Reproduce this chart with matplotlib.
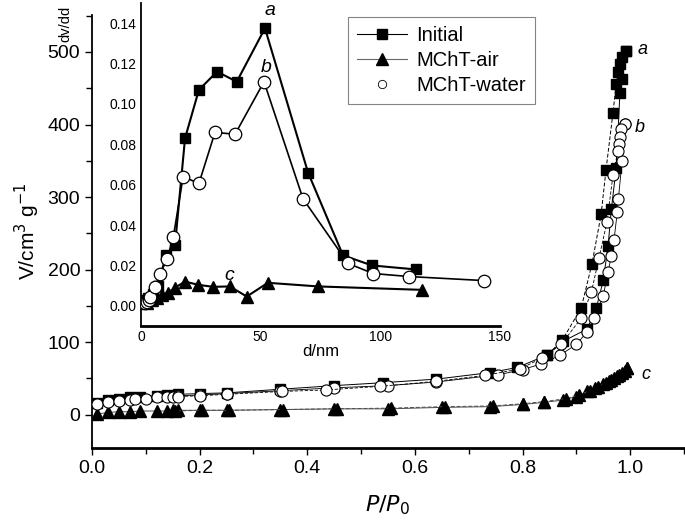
import matplotlib
matplotlib.use("Agg")
import matplotlib.pyplot as plt
from matplotlib.ticker import MultipleLocator
from matplotlib.lines import Line2D

plt.rcParams['font.family'] = ['Liberation Sans', 'DejaVu Sans']

# isotherms (P/P0, V)
init_ads_p = [0.01, 0.03, 0.05, 0.07, 0.09, 0.12, 0.14, 0.16, 0.20, 0.25, 0.35, 0.45, 0.54, 0.64,
              0.74, 0.79, 0.845, 0.875, 0.92, 0.937, 0.95, 0.959, 0.965, 0.974, 0.981, 0.985, 0.993]
init_ads_v = [16, 20, 22, 24, 25, 26, 27, 28, 29, 30, 35, 40, 44, 49,
              58, 65, 82, 101, 118, 147, 185, 233, 283, 340, 444, 463, 501]
init_des_p = [0.993, 0.985, 0.981, 0.978, 0.974, 0.968, 0.955, 0.946, 0.929, 0.909, 0.874, 0.846]
init_des_v = [501, 493, 484, 472, 456, 416, 337, 276, 208, 147, 103, 82]

air_ads_p = [0.01, 0.03, 0.05, 0.07, 0.09, 0.12, 0.14, 0.15, 0.16, 0.20, 0.25, 0.35, 0.45, 0.55,
             0.65, 0.74, 0.80, 0.84, 0.875, 0.90, 0.92, 0.935, 0.95, 0.96, 0.97, 0.98, 0.99, 0.995]
air_ads_v = [1, 3, 4, 4, 5, 5, 5, 6, 6, 6, 6, 7, 8, 8,
             10, 11, 14, 17, 20, 25, 32, 37, 42, 46, 50, 55, 60, 64]
air_des_p = [0.995, 0.985, 0.975, 0.965, 0.955, 0.94, 0.925, 0.905, 0.88, 0.84, 0.80, 0.745,
             0.655, 0.555, 0.455, 0.355, 0.255, 0.205, 0.155]
air_des_v = [64, 58, 53, 48, 44, 38, 33, 27, 22, 18, 15, 12, 11, 9, 8, 7, 6, 6, 5]

water_ads_p = [0.01, 0.03, 0.05, 0.07, 0.08, 0.10, 0.12, 0.14, 0.15, 0.16, 0.20, 0.25, 0.35, 0.45,
               0.55, 0.64, 0.755, 0.80, 0.835, 0.87, 0.90, 0.92, 0.933, 0.95, 0.959, 0.965, 0.970,
               0.976, 0.978, 0.985, 0.991]
water_ads_v = [15, 18, 19, 20, 21, 22, 24, 25, 25, 26, 27, 29, 33, 37,
               40, 45, 55, 62, 70, 82, 97, 114, 133, 164, 197, 219, 241,
               279, 297, 350, 401]
water_des_p = [0.991, 0.983, 0.981, 0.979, 0.977, 0.968, 0.957, 0.942, 0.928, 0.909, 0.872, 0.836,
               0.795, 0.73, 0.64, 0.535, 0.434, 0.353, 0.25, 0.20, 0.16]
water_des_v = [401, 394, 383, 373, 363, 330, 266, 216, 169, 133, 97, 78,
               63, 54, 46, 39, 34, 32, 28, 26, 25]

# pore size distribution (d/nm, dv/dd)
psd_init_d = [1.5, 3, 5, 7, 10.5, 14.2, 18.4, 24.2, 31.8, 40, 51.8, 69.8, 84.4, 96.5, 115]
psd_init_v = [0.003, 0.004, 0.006, 0.010, 0.025, 0.030, 0.083, 0.107, 0.116, 0.111, 0.1375,
              0.066, 0.025, 0.020, 0.018]
psd_water_d = [1.8, 2.5, 3.2, 3.9, 6, 8, 10.8, 13.5, 17.6, 24.2, 30.9, 39.3, 51.4, 67.7, 86.5,
               97, 112, 143.3]
psd_water_v = [0.0015, 0.002, 0.003, 0.0045, 0.0095, 0.016, 0.023, 0.034, 0.064, 0.0606, 0.0859,
               0.085, 0.111, 0.053, 0.021, 0.016, 0.0145, 0.0125]
psd_air_d = [2.5, 4.6, 6.6, 8.7, 11.3, 14.2, 18.4, 23.9, 30.1, 37.1, 44.2, 53, 74, 117.5]
psd_air_v = [0.0015, 0.003, 0.004, 0.0055, 0.0065, 0.009, 0.012, 0.0104, 0.0094, 0.0096,
             0.0046, 0.0114, 0.0096, 0.0079]

W, H = 685, 529
fig = plt.figure(figsize=(W / 100, H / 100), dpi=100)

def px(l, t, r, b):
    return [l / W, 1 - b / H, (r - l) / W, (b - t) / H]

ax = fig.add_axes(px(92, 15, 684, 448))
ax.spines['top'].set_visible(False)
ax.spines['right'].set_visible(False)
ax.spines['bottom'].set_linewidth(2)
ax.spines['left'].set_linewidth(1.3)

# adsorption solid, desorption dashed
ax.plot(init_ads_p, init_ads_v, color='k', lw=0.7, marker='s', ms=6.5, mfc='k', mec='k', zorder=3)
ax.plot(init_des_p, init_des_v, color='k', lw=0.7, ls=(0, (4, 2)), marker='s', ms=6.5,
        mfc='k', mec='k', zorder=3)
ax.plot(air_ads_p, air_ads_v, color='0.3', lw=0.7, marker='^', ms=8.5, mfc='k', mec='k', zorder=3)
ax.plot(air_des_p, air_des_v, color='0.3', lw=0.7, ls=(0, (4, 2)), marker='^', ms=8.5,
        mfc='k', mec='k', zorder=3)
ax.plot(water_ads_p, water_ads_v, color='k', lw=0.6, marker='o', ms=8, mfc='w', mec='k',
        mew=0.8, zorder=4)
ax.plot(water_des_p, water_des_v, color='k', lw=0.6, ls=(0, (4, 2)), marker='o', ms=8, mfc='w',
        mec='k', mew=0.8, zorder=4)

ax.set_xlim(0, 1.1)
ax.set_ylim(-46, 551)
ax.xaxis.set_minor_locator(MultipleLocator(0.1))
ax.yaxis.set_major_locator(MultipleLocator(100))
ax.yaxis.set_minor_locator(MultipleLocator(50))
ax.set_xticks([0, 0.2, 0.4, 0.6, 0.8, 1.0])
ax.tick_params(which='major', direction='out', length=5, width=1, labelsize=14)
ax.tick_params(which='minor', direction='out', length=4, width=1)
ax.set_xlabel('$P/P_0$', fontsize=16, labelpad=12)
ax.set_ylabel('V/cm$^3$ g$^{-1}$', fontsize=15, labelpad=4)

ax.text(1.014, 503, 'a', fontsize=13, style='italic', va='center', ha='left')
ax.text(1.008, 396, 'b', fontsize=13, style='italic', va='center', ha='left')
ax.text(1.02, 56, 'c', fontsize=13, style='italic', va='center', ha='left')

handles = [
    Line2D([], [], color='k', lw=0.8, marker='s', ms=7, mfc='k', mec='k'),
    Line2D([], [], color='0.4', lw=0.8, marker='^', ms=9, mfc='k', mec='k'),
    Line2D([], [], ls='none', marker='o', ms=6, mfc='w', mec='k', mew=0.6),
]
leg = ax.legend(handles, ['Initial', 'MChT-air', 'MChT-water'], loc='upper left',
                bbox_to_anchor=((348 - 92) / 592, 1 - (17 - 15) / 433), borderaxespad=0,
                fontsize=14.5, frameon=True, fancybox=False, edgecolor='0.4',
                handlelength=2.5, borderpad=0.45, labelspacing=0.3, handletextpad=0.45)
leg.get_frame().set_linewidth(0.8)

# inset
ins = fig.add_axes(px(141, 3, 500, 326))
ins.patch.set_alpha(0)
ins.spines['top'].set_visible(False)
ins.spines['right'].set_visible(False)
ins.spines['left'].set_linewidth(1.3)
ins.spines['bottom'].set_linewidth(2)
ins.plot(psd_init_d, psd_init_v, color='k', lw=1.5, marker='s', ms=7.5, mfc='k', mec='k', zorder=3)
ins.plot(psd_air_d, psd_air_v, color='k', lw=1.5, marker='^', ms=9, mfc='k', mec='k', zorder=3)
ins.plot(psd_water_d, psd_water_v, color='k', lw=1.2, marker='o', ms=9, mfc='w', mec='k',
         mew=0.9, zorder=4)
ins.set_xlim(0, 150)
ins.set_ylim(-0.01, 0.15)
ins.set_xticks([0, 50, 100, 150])
ins.set_yticks([0.00, 0.02, 0.04, 0.06, 0.08, 0.10, 0.12, 0.14])
ins.set_yticklabels(['%.2f' % v for v in ins.get_yticks()])
ins.tick_params(length=0, labelsize=10, pad=3)
ins.set_xlabel('d/nm', fontsize=12, labelpad=0)
ins.text(-0.21, 0.99, 'dv/dd', rotation=90, transform=ins.transAxes, fontsize=10.5,
         ha='center', va='top')
ins.text(54, 0.142, 'a', fontsize=14, style='italic', ha='center', va='bottom')
ins.text(52.5, 0.114, 'b', fontsize=14, style='italic', ha='center', va='bottom')
ins.text(37, 0.011, 'c', fontsize=14, style='italic', ha='center', va='bottom')

fig.savefig('out.png', dpi=100)
